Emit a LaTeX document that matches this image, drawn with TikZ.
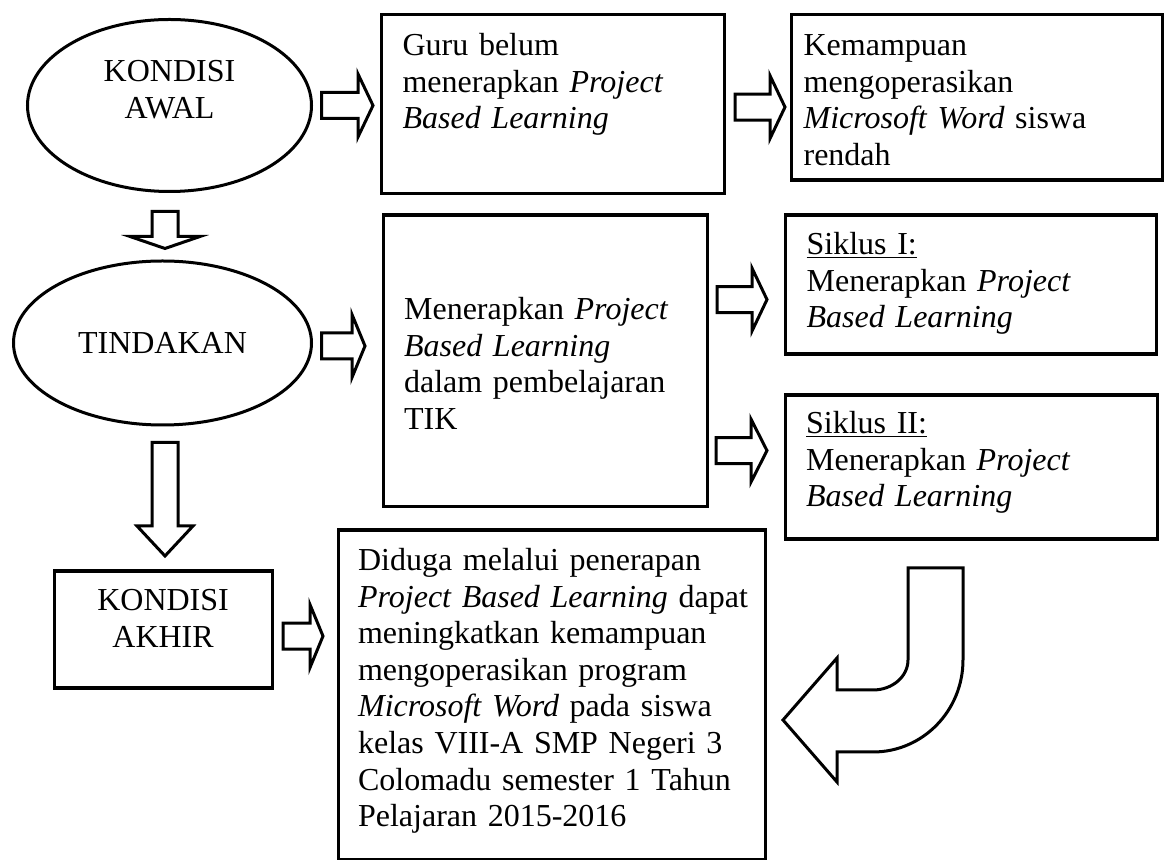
\documentclass[tikz,border=0pt]{standalone}
\usepackage{fontspec}
\setmainfont{Liberation Serif}
\usepackage{tikz}
\usetikzlibrary{shapes.geometric, calc}

\tikzset{
  textbox/.style={rectangle,draw,line width=1.6pt,anchor=north west,
    align=left,inner ysep=0pt,inner xsep=10.5pt},
  ovalbox/.style={ellipse,draw,line width=1.5pt,inner sep=0pt,align=center},
  blockarrow/.style={draw,line width=1.5pt,line join=miter}
}

% hollow block arrows: #1 tail, #2 tip, #3 head length (#4 head half width)
\newcommand{\rightblock}[3]{%
  \draw[blockarrow] let \p1=#1, \p2=#2 in
    (\x1,\y1+6.5pt) -- (\x2-#3,\y1+6.5pt) -- (\x2-#3,\y1+15.75pt) -- (\x2,\y1)
    -- (\x2-#3,\y1-15.75pt) -- (\x2-#3,\y1-6.5pt) -- (\x1,\y1-6.5pt) -- cycle;}
\newcommand{\downblock}[4]{%
  \draw[blockarrow] let \p1=#1, \p2=#2 in
    (\x1-6.5pt,\y1) -- (\x1-6.5pt,\y2+#4) -- (\x1-#3,\y2+#4) -- (\x1,\y2)
    -- (\x1+#3,\y2+#4) -- (\x1+6.5pt,\y2+#4) -- (\x1+6.5pt,\y1) -- cycle;}

\begin{document}
\begin{tikzpicture}[x=0.5pt,y=-0.5pt,every node/.style={font=\fontsize{16pt}{18.3pt}\selectfont}]
  \useasboundingbox (0,0) rectangle (1164,860);

  % left column
  \node[ovalbox,minimum width=142pt,minimum height=86pt,text width=100pt,
    text height=11pt,text depth=34.5pt] (awal) at (169.5,105.5) {KONDISI\\AWAL};
  \node[ovalbox,minimum width=149pt,minimum height=82pt,
    text height=11pt,text depth=0pt] (tindakan) at (162.5,343) {TINDAKAN};
  \node[textbox,align=center,text width=88pt,text height=19.75pt,text depth=38.75pt]
    (akhir) at (52.5,569.5) {KONDISI\\AKHIR};

  % boxes
  \node[textbox,text width=150.5pt,text height=20.5pt,text depth=69pt] (guru) at (380,13)
    {Guru belum\\menerapkan \textit{Project}\\\textit{Based Learning}};
  \node[textbox,inner xsep=6pt,text width=173.5pt,text height=20.5pt,text depth=62.25pt]
    (kemampuan) at (790,13)
    {Kemampuan\\mengoperasikan\\\textit{Microsoft Word} siswa\\rendah};
  \node[textbox,text width=141.25pt,text height=52.25pt,text depth=93.5pt]
    (menerapkan) at (381.5,213.5)
    {Menerapkan \textit{Project}\\\textit{Based Learning}\\dalam pembelajaran\\TIK};
  \node[textbox,text width=164.25pt,text height=19.75pt,text depth=49.75pt]
    (siklusI) at (784,213.5)
    {\underline{Siklus I:}\\Menerapkan \textit{Project}\\\textit{Based Learning}};
  \node[textbox,text width=165pt,text height=19.25pt,text depth=52.75pt]
    (siklusII) at (783.5,393.5)
    {\underline{Siklus II:}\\Menerapkan \textit{Project}\\\textit{Based Learning}};
  \node[textbox,inner xsep=10pt,text width=193.5pt,text height=20.25pt,text depth=144.5pt]
    (dugaan) at (336.5,528.5)
    {Diduga melalui penerapan\\\mbox{\textit{Project Based Learning} dapat}\\meningkatkan kemampuan\\mengoperasikan program\\\mbox{\textit{Microsoft Word} pada siswa}\\\mbox{kelas VIII-A SMP Negeri 3}\\\mbox{Colomadu semester 1 Tahun}\\Pelajaran 2015-2016};

  % arrows
  \rightblock{($(awal.east)+(8.5,0)$)}{($(awal.east -| guru.west)+(-7,0)$)}{7.5pt}
  \rightblock{($(guru.east)+(9,3)$)}{($(kemampuan.west)+(-5,3)$)}{7.5pt}
  \rightblock{($(tindakan.east)+(8.5,3)$)}{($(menerapkan.west)+(-16.5,3)$)}{6.5pt}
  \rightblock{($(menerapkan.east |- siklusI.west)+(8,15)$)}{($(siklusI.west)+(-17,15)$)}{7.5pt}
  \rightblock{($(menerapkan.east |- siklusII.west)+(7,-16.5)$)}{($(siklusII.west)+(-16.5,-16.5)$)}{8pt}
  \rightblock{($(akhir.east)+(9.5,6.5)$)}{($(dugaan.west)+(-13.5,6.5)$)}{6.5pt}
  \downblock{($(awal.south)+(-4.5,18.5)$)}{($(tindakan.north)+(2.5,-11)$)}{17.5pt}{6pt}
  \downblock{($(tindakan.south)+(2.5,16)$)}{($(akhir.north)+(3.5,-13.5)$)}{14pt}{15pt}

  % curved arrow back to the conclusion
  \draw[blockarrow] (908,568) -- (963,568) -- (963,660)
    arc[start angle=0,end angle=-90,x radius=45pt,y radius=46pt]
    -- (837,752) -- (837,782) -- (783,720) -- (837,658) -- (837,690) -- (873,690)
    arc[start angle=-90,end angle=0,x radius=17.5pt,y radius=15pt] -- cycle;
\end{tikzpicture}
\end{document}
